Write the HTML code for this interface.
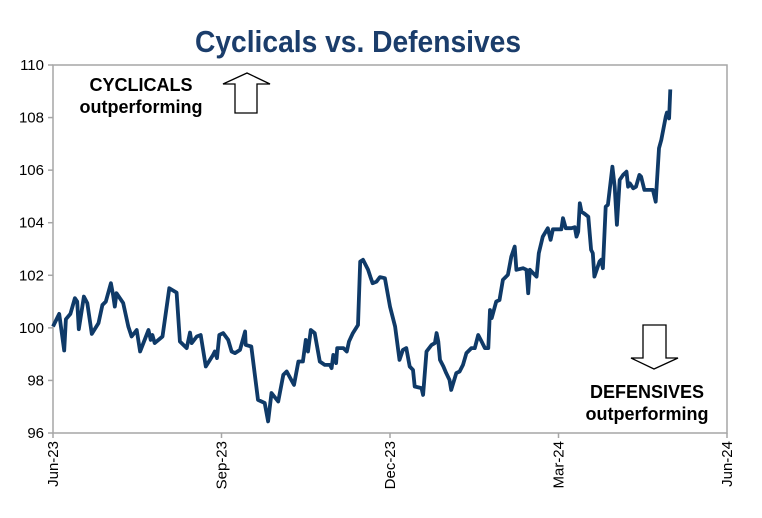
<!DOCTYPE html>
<html><head><meta charset="utf-8"><style>
html,body{margin:0;padding:0;background:#fff;}
svg{display:block;font-family:"Liberation Sans",Arial,sans-serif;}
</style></head><body>
<svg id="chart" width="762" height="518" viewBox="0 0 762 518">
<text x="358" y="52" text-anchor="middle" font-size="31" font-weight="bold" fill="#1b3d6b" textLength="326" lengthAdjust="spacingAndGlyphs">Cyclicals vs. Defensives</text>
<rect x="53" y="65" width="674" height="368" fill="none" stroke="#a6a6a6" stroke-width="1.5"/>
<g id="yaxis"></g>
<g id="xaxis"></g>
<g>
<text x="141" y="91" text-anchor="middle" font-size="18" font-weight="bold" fill="#000">CYCLICALS</text>
<text x="141" y="113" text-anchor="middle" font-size="18" font-weight="bold" fill="#000">outperforming</text>
<polygon points="247,73 270,84 257,84 257,113 235,113 235,84 223,84" fill="#fff" stroke="#000" stroke-width="1.3"/>
</g>
<g>
<polygon points="643,325 666,325 666,358 678,358 654,369 631,358 643,358" fill="#fff" stroke="#000" stroke-width="1.3"/>
<text x="647" y="398" text-anchor="middle" font-size="18" font-weight="bold" fill="#000">DEFENSIVES</text>
<text x="647" y="420" text-anchor="middle" font-size="18" font-weight="bold" fill="#000">outperforming</text>
</g>
<path id="line" fill="none" stroke="#0f3a68" stroke-width="3.8" stroke-linejoin="round"/>
</svg>
<script>
const yTicks=[96,98,100,102,104,106,108,110];
const xTickLabels=["Jun-23","Sep-23","Dec-23","Mar-24","Jun-24"];
const xTickMonths=[0,3,6,9,12];
// months since 1-Jun-2023
const months=[0,0.11,0.20,0.23,0.31,0.39,0.43,0.46,0.55,0.61,0.69,0.81,0.88,0.94,1.03,1.07,1.10,1.13,1.25,1.34,1.40,1.49,1.55,1.70,1.74,1.77,1.81,1.95,2.07,2.20,2.26,2.38,2.44,2.47,2.56,2.63,2.72,2.85,2.88,2.92,2.96,3.03,3.12,3.18,3.24,3.33,3.42,3.43,3.53,3.65,3.77,3.83,3.89,4.01,4.10,4.16,4.29,4.37,4.45,4.50,4.54,4.59,4.66,4.75,4.84,4.93,4.96,4.99,5.04,5.06,5.17,5.23,5.27,5.34,5.43,5.47,5.52,5.61,5.65,5.69,5.76,5.82,5.91,6.00,6.09,6.17,6.23,6.29,6.35,6.41,6.44,6.56,6.59,6.65,6.74,6.80,6.83,6.86,6.89,6.95,7.00,7.06,7.09,7.18,7.24,7.30,7.36,7.45,7.51,7.57,7.63,7.69,7.75,7.78,7.81,7.89,7.95,8.01,8.10,8.16,8.22,8.25,8.37,8.43,8.46,8.49,8.55,8.61,8.65,8.72,8.81,8.86,8.90,9.05,9.08,9.13,9.23,9.29,9.32,9.35,9.38,9.41,9.47,9.53,9.58,9.61,9.64,9.73,9.76,9.79,9.84,9.88,9.96,10.00,10.04,10.09,10.15,10.21,10.24,10.27,10.33,10.38,10.44,10.47,10.53,10.68,10.73,10.79,10.83,10.91,10.93,10.97,10.99];
const values=[100.05,100.53,99.14,100.33,100.53,101.13,101.0,99.95,101.19,100.94,99.77,100.18,100.87,101.0,101.7,101.25,100.81,101.32,100.94,100.05,99.67,99.92,99.1,99.92,99.54,99.73,99.42,99.67,101.51,101.34,99.48,99.23,99.82,99.42,99.67,99.73,98.53,98.97,99.1,98.85,99.73,99.8,99.54,99.1,99.04,99.16,99.86,99.35,99.29,97.26,97.14,96.44,97.52,97.2,98.21,98.34,97.83,98.72,98.72,99.54,99.1,99.92,99.8,98.72,98.59,98.59,98.47,98.97,98.66,99.23,99.23,99.1,99.48,99.8,100.11,102.52,102.59,102.21,101.95,101.7,101.76,101.93,101.89,100.81,100.05,98.78,99.16,99.23,98.53,98.4,97.77,97.71,97.45,99.1,99.35,99.42,99.8,99.48,98.78,98.53,98.28,98.02,97.64,98.28,98.34,98.59,99.04,99.23,99.23,99.73,99.48,99.23,99.23,100.68,100.37,101.0,101.06,101.83,102.02,102.71,103.09,102.21,102.27,102.21,101.32,102.21,102.08,101.95,102.84,103.47,103.79,103.35,103.75,103.75,104.17,103.79,103.79,103.83,103.47,103.66,104.74,104.42,104.33,104.23,102.97,102.84,101.95,102.52,102.59,102.27,104.61,104.68,106.13,105.37,103.92,105.63,105.82,105.94,105.37,105.5,105.31,105.37,105.82,105.75,105.25,105.25,104.8,106.83,107.15,108.04,108.19,107.97,109.07];
const X0=53,X1=727,Y0=433,Y1=65;
const xs=m=>X0+(m/12)*(X1-X0);
const ys=v=>Y0-(v-96)/(110-96)*(Y0-Y1);
const NS="http://www.w3.org/2000/svg";
const ya=document.getElementById('yaxis');
yTicks.forEach(t=>{
  const l=document.createElementNS(NS,'line');
  
  
  l.setAttribute('x1',X0-5);l.setAttribute('x2',X0);l.setAttribute('y1',ys(t));l.setAttribute('y2',ys(t));
  l.setAttribute('stroke','#a6a6a6');l.setAttribute('stroke-width','1.5');ya.appendChild(l);
  const tx=document.createElementNS(NS,'text');
  
  
  tx.setAttribute('x',X0-9);tx.setAttribute('y',ys(t)+5);tx.setAttribute('text-anchor','end');
  tx.setAttribute('font-size','15');tx.setAttribute('fill','#000');tx.textContent=t;ya.appendChild(tx);
});
const xa=document.getElementById('xaxis');
xTickMonths.forEach((m,i)=>{
  const x=xs(m);
  const l=document.createElementNS(NS,'line');
  
  
  l.setAttribute('x1',x);l.setAttribute('x2',x);l.setAttribute('y1',Y0);l.setAttribute('y2',Y0+5);
  l.setAttribute('stroke','#a6a6a6');l.setAttribute('stroke-width','1.5');xa.appendChild(l);
  const tx=document.createElementNS(NS,'text');
  
  
  tx.setAttribute('transform','translate('+(x+5)+','+(Y0+8)+') rotate(-90)');
  tx.setAttribute('text-anchor','end');tx.setAttribute('font-size','15');tx.setAttribute('fill','#000');
  tx.textContent=xTickLabels[i];xa.appendChild(tx);
});
document.getElementById('line').setAttribute('d',months.map((m,i)=>(i?'L':'M')+xs(m).toFixed(1)+','+ys(values[i]).toFixed(1)).join(''));
</script>
</body></html>
